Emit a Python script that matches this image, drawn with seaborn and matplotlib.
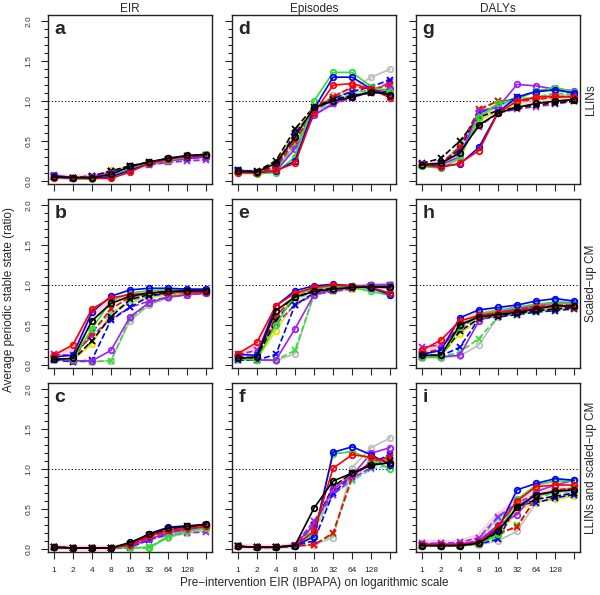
import numpy as np
import pandas as pd
import matplotlib
matplotlib.use('Agg')
import matplotlib.pyplot as plt
import seaborn as sns

# x positions 1..9 correspond to pre-intervention EIR 1,2,4,...,256
eir_levels = [1, 2, 4, 8, 16, 32, 64, 128, 256]
tick_labels = ['1', '2', '4', '8', '16', '32', '64', '128', '']

col_titles = ['EIR', 'Episodes', 'DALYs']
row_titles = ['LLINs', 'Scaled\u2212up CM', 'LLINs and scaled\u2212up CM']
panel_letters = [['a', 'd', 'g'], ['b', 'e', 'h'], ['c', 'f', 'i']]

series_names = ['pink', 'gray o', 'yellow o', 'cyan x', 'purple x', 'green x', 'blue x', 'red x', 'black x',
                'purple o', 'green o', 'blue o', 'red o', 'black o']
series_colors = ['#FFB6C1', '#BEBEBE', '#E5E500', '#40E0D0', '#A020F0', '#33DD33', '#0000FF', '#FF0000', '#000000',
                 '#A020F0', '#33DD33', '#0000FF', '#FF0000', '#000000']

# panel a: EIR, LLINs
vals_a = [
    [.06, .04, .05, .09, .16, .21, .25, .28, .30],
    [.05, .03, .04, .11, .18, .22, .26, .29, .30],
    [.05, .04, .06, .13, .18, .22, .27, .30, .31],
    [.06, .04, .05, .10, .16, .21, .25, .27, .29],
    [.07, .04, .06, .12, .17, .20, .23, .25, .26],
    [.05, .03, .05, .09, .16, .21, .25, .28, .31],
    [.06, .04, .06, .12, .18, .22, .26, .28, .30],
    [.05, .04, .05, .10, .17, .22, .26, .29, .31],
    [.05, .04, .05, .12, .19, .23, .27, .31, .32],
    [.07, .04, .05, .10, .17, .21, .25, .28, .30],
    [.06, .03, .02, .06, .15, .22, .26, .30, .34],
    [.06, .04, .03, .05, .13, .22, .29, .30, .32],
    [.04, .03, .03, .03, .11, .22, .27, .31, .32],
    [.05, .04, .04, .08, .18, .24, .28, .32, .33],
]
# panel d: Episodes, LLINs
vals_d = [
    [.12, .10, .18, .48, .86, 1.02, 1.10, 1.13, 1.18],
    [.12, .11, .16, .45, .88, 1.08, 1.15, 1.30, 1.40],
    [.12, .11, .24, .62, .90, 1.00, 1.06, 1.12, 1.15],
    [.12, .10, .15, .42, .85, 1.00, 1.08, 1.12, 1.10],
    [.13, .11, .20, .52, .83, .96, 1.04, 1.12, 1.24],
    [.12, .10, .16, .45, .88, 1.05, 1.12, 1.13, 1.15],
    [.12, .10, .18, .60, .88, 1.03, 1.12, 1.18, 1.27],
    [.11, .10, .17, .50, .88, 1.05, 1.18, 1.15, 1.20],
    [.13, .12, .25, .65, .93, 1.02, 1.07, 1.10, 1.12],
    [.12, .10, .12, .40, .82, .97, 1.05, 1.12, 1.15],
    [.11, .09, .10, .30, 1.00, 1.36, 1.36, 1.18, 1.12],
    [.13, .11, .12, .25, .90, 1.30, 1.30, 1.15, 1.07],
    [.10, .10, .13, .22, .85, 1.20, 1.22, 1.15, 1.04],
    [.12, .11, .22, .55, .92, 1.00, 1.05, 1.12, 1.08],
]
# panel g: DALYs, LLINs
vals_g = [
    [.20, .20, .38, .80, .93, .98, 1.02, 1.05, 1.06],
    [.20, .20, .33, .78, .95, 1.00, 1.05, 1.08, 1.05],
    [.20, .21, .36, .75, .88, .93, .97, 1.00, 1.02],
    [.20, .20, .42, .85, .95, 1.00, 1.03, 1.05, 1.04],
    [.21, .22, .38, .68, .85, .90, .93, .96, 1.00],
    [.19, .19, .45, .88, 1.00, 1.02, 1.05, 1.10, 1.08],
    [.20, .21, .40, .85, .95, 1.05, 1.12, 1.15, 1.10],
    [.20, .22, .42, .90, 1.00, 1.00, 1.02, 1.05, 1.06],
    [.22, .28, .50, .80, .88, .92, .95, .98, 1.00],
    [.21, .20, .30, .88, .92, 1.21, 1.19, 1.15, 1.13],
    [.18, .16, .28, .80, .97, 1.02, 1.13, 1.17, 1.12],
    [.20, .18, .21, .42, .86, 1.05, 1.12, 1.14, 1.10],
    [.20, .17, .22, .38, .85, 1.00, 1.05, 1.06, 1.05],
    [.20, .22, .35, .70, .85, .92, .97, 1.00, 1.02],
]
# panel b: EIR, scaled-up CM
vals_b = [
    [.12, .20, .60, .80, .85, .88, .90, .91, .91],
    [.06, .05, .04, .05, .55, .75, .84, .88, .90],
    [.07, .06, .26, .65, .78, .84, .88, .90, .92],
    [.08, .07, .42, .65, .80, .86, .90, .92, .93],
    [.13, .12, .36, .58, .72, .80, .85, .88, .90],
    [.07, .04, .04, .05, .58, .76, .86, .90, .92],
    [.06, .04, .06, .56, .72, .86, .90, .92, .93],
    [.08, .07, .40, .70, .85, .90, .92, .92, .92],
    [.07, .06, .30, .60, .82, .88, .90, .92, .92],
    [.07, .05, .05, .18, .60, .78, .85, .88, .90],
    [.08, .07, .45, .80, .90, .93, .94, .94, .93],
    [.10, .12, .66, .86, .94, .96, .96, .95, .95],
    [.12, .25, .70, .84, .88, .90, .91, .91, .91],
    [.07, .08, .55, .77, .86, .90, .92, .93, .93],
]
# panel e: Episodes, scaled-up CM
vals_e = [
    [.12, .22, .62, .85, .92, .96, .97, .98, .98],
    [.06, .06, .05, .14, .88, .95, .99, 1.01, 1.02],
    [.08, .07, .43, .78, .88, .92, .95, .97, .98],
    [.09, .08, .56, .82, .92, .95, .97, .97, .96],
    [.13, .18, .51, .75, .88, .92, .95, .99, 1.00],
    [.07, .06, .06, .18, .88, .94, .97, .99, 1.00],
    [.06, .06, .13, .75, .90, .94, .97, .99, .99],
    [.10, .09, .60, .88, .95, .98, .98, .98, .97],
    [.09, .08, .55, .84, .93, .96, .97, .98, .98],
    [.08, .06, .06, .45, .88, .94, .98, 1.00, 1.00],
    [.08, .06, .50, .88, .96, .98, .97, .92, .87],
    [.13, .12, .74, .93, .99, 1.01, .99, .96, .88],
    [.14, .28, .74, .90, .97, 1.00, .99, .97, .90],
    [.08, .10, .68, .85, .92, .95, .97, .98, .97],
]
# panel h: DALYs, scaled-up CM
vals_h = [
    [.16, .26, .52, .64, .68, .71, .74, .77, .77],
    [.09, .09, .11, .25, .60, .64, .68, .71, .73],
    [.11, .11, .39, .56, .61, .64, .67, .69, .71],
    [.12, .12, .46, .60, .64, .68, .72, .74, .75],
    [.22, .25, .45, .64, .68, .72, .75, .78, .78],
    [.11, .10, .16, .33, .60, .65, .68, .70, .72],
    [.10, .11, .22, .58, .60, .63, .66, .68, .70],
    [.14, .20, .50, .62, .66, .70, .73, .75, .75],
    [.12, .12, .42, .58, .62, .65, .68, .70, .72],
    [.10, .10, .12, .55, .66, .70, .75, .78, .78],
    [.10, .10, .48, .64, .68, .72, .76, .78, .77],
    [.13, .18, .59, .69, .72, .75, .80, .83, .80],
    [.18, .31, .55, .62, .65, .68, .72, .74, .73],
    [.12, .12, .50, .60, .63, .66, .70, .74, .74],
]
# panel c: EIR, LLINs and scaled-up CM
vals_c = [
    [.02, .01, .01, .01, .04, .13, .19, .23, .25],
    [.01, .01, .01, .01, .01, .02, .14, .20, .23],
    [.02, .01, .01, .01, .05, .15, .22, .26, .29],
    [.02, .01, .01, .01, .04, .14, .21, .24, .27],
    [.02, .01, .01, .01, .04, .12, .17, .20, .21],
    [.02, .01, .01, .01, .01, .02, .16, .23, .27],
    [.02, .01, .01, .01, .02, .11, .20, .25, .28],
    [.02, .01, .01, .01, .04, .15, .22, .26, .28],
    [.02, .01, .01, .01, .06, .17, .25, .28, .30],
    [.02, .01, .01, .01, .03, .12, .20, .24, .27],
    [.02, .01, .01, .01, .02, .01, .15, .22, .26],
    [.02, .01, .01, .01, .06, .19, .27, .29, .30],
    [.02, .01, .01, .01, .05, .16, .23, .26, .28],
    [.02, .01, .01, .01, .08, .18, .26, .28, .31],
]
# panel f: Episodes, LLINs and scaled-up CM
vals_f = [
    [.03, .02, .02, .04, .28, .72, .90, 1.05, 1.12],
    [.03, .02, .02, .03, .05, .14, 1.02, 1.27, 1.39],
    [.03, .02, .02, .04, .20, .78, .95, 1.05, 1.08],
    [.03, .02, .02, .04, .25, .68, .85, 1.00, 1.05],
    [.03, .02, .02, .05, .35, .68, .88, 1.02, 1.20],
    [.03, .02, .02, .03, .05, .18, .88, 1.10, 1.12],
    [.03, .02, .02, .04, .10, .70, .92, 1.08, 1.18],
    [.03, .02, .02, .04, .05, .20, .90, 1.10, 1.15],
    [.03, .02, .02, .04, .30, .78, .95, 1.05, 1.10],
    [.03, .02, .02, .05, .30, .75, .92, 1.20, 1.27],
    [.03, .02, .02, .04, .18, 1.19, 1.22, 1.12, 1.00],
    [.03, .02, .02, .04, .15, 1.21, 1.28, 1.18, 1.05],
    [.03, .02, .02, .04, .22, 1.01, 1.18, 1.15, 1.08],
    [.03, .02, .02, .04, .51, .85, .95, 1.05, 1.08],
]
# panel i: DALYs, LLINs and scaled-up CM
vals_i = [
    [.08, .08, .08, .16, .42, .60, .70, .73, .75],
    [.04, .04, .04, .05, .10, .22, .58, .64, .68],
    [.04, .04, .04, .06, .15, .48, .58, .62, .66],
    [.05, .05, .05, .10, .38, .55, .66, .70, .72],
    [.07, .07, .08, .14, .40, .58, .68, .72, .76],
    [.04, .04, .04, .06, .16, .30, .62, .72, .76],
    [.04, .04, .04, .06, .12, .55, .58, .64, .68],
    [.05, .05, .05, .08, .20, .27, .65, .74, .76],
    [.05, .05, .05, .08, .20, .52, .62, .66, .70],
    [.06, .06, .06, .10, .30, .43, .72, .80, .86],
    [.04, .04, .04, .06, .18, .62, .80, .85, .85],
    [.05, .04, .05, .08, .25, .74, .82, .88, .86],
    [.05, .05, .05, .08, .28, .60, .78, .80, .80],
    [.04, .04, .04, .07, .22, .52, .68, .72, .74],
]

panel_vals = [[vals_a, vals_d, vals_g], [vals_b, vals_e, vals_h], [vals_c, vals_f, vals_i]]

sns.set_style('ticks')
plt.rcParams['font.family'] = ['Liberation Sans', 'DejaVu Sans']

fig = plt.figure(figsize=(6.0, 5.95), dpi=100)
W, H = 600.0, 595.0
lefts = [48, 232, 416]
tops = [15, 199, 383]
pw, ph = 164, 169

x = np.arange(1, 10)
for r in range(3):
    for c in range(3):
        ax = fig.add_axes([lefts[c] / W, 1 - (tops[r] + ph) / H, pw / W, ph / H])
        ax.axhline(1.0, color='black', linestyle=(0, (1, 2)), linewidth=0.8, zorder=1)
        for k, name in enumerate(series_names):
            y = panel_vals[r][c][k]
            col = series_colors[k]
            if name == 'pink':
                sns.lineplot(x=x, y=y, ax=ax, color=col, linewidth=4, alpha=0.6,
                             marker='o', markersize=4, markerfacecolor='none',
                             markeredgecolor=col, markeredgewidth=1.2)
            elif name.endswith('x'):
                sns.lineplot(x=x, y=y, ax=ax, color=col, linewidth=1.2, linestyle='--',
                             marker='x', markersize=4, markeredgewidth=1.3, markeredgecolor=col)
            else:
                sns.lineplot(x=x, y=y, ax=ax, color=col, linewidth=1.2,
                             marker='o', markersize=4, markerfacecolor='none',
                             markeredgecolor=col, markeredgewidth=1.3)
        ax.set_xlim(0.7, 9.3)
        ax.set_ylim(-0.04, 2.08)
        ax.set_xticks(x)
        if r == 2:
            ax.set_xticklabels(tick_labels, fontsize=6)
        else:
            ax.set_xticklabels([])
        ax.set_yticks([0, 0.5, 1.0, 1.5, 2.0])
        ax.set_yticks(np.arange(0, 2.01, 0.1), minor=True)
        if c == 0:
            ax.set_yticklabels(['0.0', '0.5', '1.0', '1.5', '2.0'], fontsize=6,
                               rotation=90, va='center', color='#333333')
        else:
            ax.set_yticklabels([])
        ax.tick_params(axis='both', which='major', direction='out', length=5, width=0.8, pad=6)
        ax.tick_params(axis='y', which='minor', direction='out', length=3, width=0.8)
        for sp in ax.spines.values():
            sp.set_linewidth(1.0)
            sp.set_color('#222222')
        ax.set_xlabel('')
        ax.set_ylabel('')
        ax.text(0.04, 0.965, panel_letters[r][c], transform=ax.transAxes, fontsize=14,
                fontweight='bold', ha='left', va='top')
        if r == 0:
            ax.set_title(col_titles[c], fontsize=8.5, pad=1.5)
        if c == 2:
            ax.text(1.07, 0.5, row_titles[r], transform=ax.transAxes, rotation=90,
                    fontsize=8.5, ha='center', va='center')

fig.text(9 / W, 1 - 300 / H, 'Average periodic stable state (ratio)', rotation=90,
         fontsize=8.5, ha='center', va='center')
fig.text(314 / W, 1 - 583 / H, 'Pre\u2212intervention EIR (IBPAPA) on logarithmic scale',
         fontsize=8.5, ha='center', va='center')

fig.savefig('out.png', dpi=100)
